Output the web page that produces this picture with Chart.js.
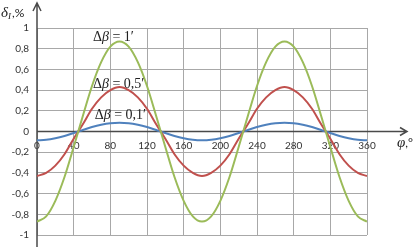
<!DOCTYPE html>
<html>
<head>
<meta charset="utf-8">
<script src="https://cdn.jsdelivr.net/npm/chart.js@4"></script>
<style>
  html, body { margin: 0; padding: 0; background: #fff; overflow: hidden; }
</style>
</head>
<body>
<canvas id="chart" width="417" height="249"></canvas>
<script>
// угол φ, градусы
const angles = [0, 10, 20, 30, 40, 50, 60, 70, 80, 90, 100, 110, 120, 130, 140, 150, 160, 170, 180,
                190, 200, 210, 220, 230, 240, 250, 260, 270, 280, 290, 300, 310, 320, 330, 340, 350, 360];

// δI, % при Δβ = 1'
const beta1 = [-0.87, -0.82, -0.67, -0.44, -0.15, 0.15, 0.44, 0.67, 0.82, 0.87, 0.82, 0.67, 0.44, 0.15,
               -0.15, -0.44, -0.67, -0.82, -0.87, -0.82, -0.67, -0.44, -0.15, 0.15, 0.44, 0.67, 0.82,
               0.87, 0.82, 0.67, 0.44, 0.15, -0.15, -0.44, -0.67, -0.82, -0.87];
// Δβ = 0,5'
const beta05 = [-0.43, -0.40, -0.33, -0.22, -0.07, 0.07, 0.22, 0.33, 0.40, 0.43, 0.40, 0.33, 0.22, 0.07,
                -0.07, -0.22, -0.33, -0.40, -0.43, -0.40, -0.33, -0.22, -0.07, 0.07, 0.22, 0.33, 0.40,
                0.43, 0.40, 0.33, 0.22, 0.07, -0.07, -0.22, -0.33, -0.40, -0.43];
// Δβ = 0,1'
const beta01 = [-0.085, -0.08, -0.065, -0.043, -0.015, 0.015, 0.043, 0.065, 0.08, 0.085, 0.08, 0.065,
                0.043, 0.015, -0.015, -0.043, -0.065, -0.08, -0.085, -0.08, -0.065, -0.043, -0.015,
                0.015, 0.043, 0.065, 0.08, 0.085, 0.08, 0.065, 0.043, 0.015, -0.015, -0.043, -0.065,
                -0.08, -0.085];

const seriesLabels = ["1′", "0,5′", "0,1′"];

const toPoints = arr => arr.map((v, i) => ({ x: angles[i], y: v }));

// Оси со стрелками и подписи
const decor = {
  id: 'decor',
  beforeDatasetsDraw(chart) {
    const c = chart.ctx;
    const xs = chart.scales.x, ys = chart.scales.y;
    const x0 = xs.getPixelForValue(0);
    const y0 = ys.getPixelForValue(0);
    c.save();
    c.strokeStyle = '#4a4a4a';
    c.lineWidth = 1.5;
    c.beginPath();
    // ось δ
    c.moveTo(x0, 247); c.lineTo(x0, 3);
    c.moveTo(x0 - 4, 11); c.lineTo(x0, 3); c.lineTo(x0 + 4, 11);
    // ось φ
    c.moveTo(x0, y0); c.lineTo(407, y0);
    c.moveTo(400, y0 - 4); c.lineTo(407, y0); c.lineTo(400, y0 + 4);
    c.stroke();
    c.restore();
  },
  afterDraw(chart) {
    const c = chart.ctx;
    const xs = chart.scales.x, ys = chart.scales.y;
    c.save();
    c.fillStyle = '#222';
    c.textBaseline = 'alphabetic';

    // подписи кривых
    const notes = [[61, 0.87], [61, 0.425], [63, 0.116]];
    notes.forEach((n, i) => {
      let x = xs.getPixelForValue(n[0]);
      const y = ys.getPixelForValue(n[1]);
      c.font = '14px "Liberation Serif"';
      c.fillText('Δ', x, y); x += c.measureText('Δ').width;
      c.font = 'italic 14px "Liberation Serif"';
      c.fillText('β', x, y); x += c.measureText('β').width;
      c.font = '14px "Liberation Serif"';
      c.fillText(' = ' + seriesLabels[i], x, y);
    });

    // заголовок оси δ
    let x = 1;
    c.font = 'italic 15px "Liberation Serif"';
    c.fillText('δ', x, 17); x += c.measureText('δ').width;
    c.font = 'italic 9px "Liberation Serif"';
    c.fillText('I', x, 19); x += c.measureText('I').width + 1;
    c.font = '12px Lato';
    c.fillText(',%', x, 17);

    // заголовок оси φ
    x = 397;
    c.font = 'italic 15px "Liberation Serif"';
    c.fillText('φ', x, 147); x += c.measureText('φ').width;
    c.font = '12px Lato';
    c.fillText(',°', x, 147);
    c.restore();
  }
};

new Chart(document.getElementById('chart').getContext('2d'), {
  type: 'line',
  data: {
    datasets: [
      { label: seriesLabels[0], data: toPoints(beta1), borderColor: '#9bbb59' },
      { label: seriesLabels[1], data: toPoints(beta05), borderColor: '#c0504d' },
      { label: seriesLabels[2], data: toPoints(beta01), borderColor: '#4f81bd' }
    ]
  },
  options: {
    responsive: false,
    animation: false,
    layout: { padding: { top: 28, right: 50, bottom: 14, left: 0 } },
    elements: {
      point: { radius: 0 },
      line: { borderWidth: 2, cubicInterpolationMode: 'monotone', fill: false }
    },
    plugins: { legend: { display: false }, tooltip: { enabled: false } },
    scales: {
      x: {
        type: 'linear',
        min: 0, max: 360,
        position: { y: 0 },
        afterFit: s => { s.height = 0; },
        border: { display: false },
        grid: { color: '#a8a8a8', lineWidth: 1, drawTicks: false },
        ticks: { stepSize: 40, padding: 8, maxRotation: 0, color: '#333', font: { family: 'Lato', size: 10 } }
      },
      y: {
        min: -1, max: 1,
        afterFit: s => { s.width = 37; },
        border: { display: false },
        grid: { color: '#a8a8a8', lineWidth: 1, drawTicks: false },
        ticks: {
          stepSize: 0.2, padding: 8, color: '#333', font: { family: 'Lato', size: 10 },
          callback: v => String(Math.round(v * 10) / 10).replace('.', ',')
        }
      }
    }
  },
  plugins: [decor]
});
</script>
</body>
</html>
